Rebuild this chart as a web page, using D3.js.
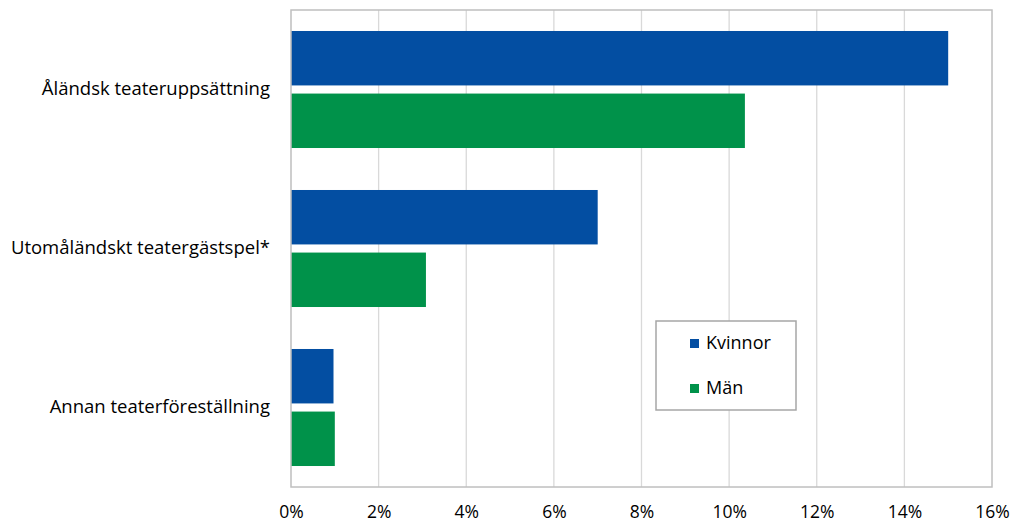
<!DOCTYPE html>
<html>
<head>
<meta charset="utf-8">
<script src="https://cdn.jsdelivr.net/npm/d3@7"></script>
<style>
body{margin:0;background:#fff;}
text{font-family:"Open Sans",sans-serif;fill:#000;}
</style>
</head>
<body>
<div id="chart"></div>
<script>
var w=1011;
var h=525;
var margin={top:10,right:19,bottom:38,left:291};

var categories=["Åländsk teateruppsättning","Utomåländskt teatergästspel*","Annan teaterföreställning"];
var seriesNames=["Kvinnor","Män"];
var kvinnor=[15.0,7.0,0.97];
var man=[10.36,3.08,1.0];
var xTicks=[0,2,4,6,8,10,12,14,16];
var colors=["#034ea2","#00924a"];

var svg=d3.select("#chart").append("svg")
 .attr("width",w)
 .attr("height",h);

var xScale=d3.scaleLinear()
 .domain([0,16])
 .range([margin.left,w-margin.right]);

var yScale=d3.scaleBand()
 .domain(categories)
 .range([margin.top,h-margin.bottom])
 .paddingInner(0.264)
 .paddingOuter(0.132);

var inner=d3.scaleBand()
 .domain(seriesNames)
 .range([0,yScale.bandwidth()])
 .paddingInner(0.13);

//grid
svg.append("g")
 .selectAll("line")
 .data(xTicks.slice(1,-1))
 .enter().append("line")
 .attr("x1",function(d){return xScale(d);})
 .attr("x2",function(d){return xScale(d);})
 .attr("y1",margin.top)
 .attr("y2",h-margin.bottom)
 .attr("stroke","#d9d9d9")
 .attr("stroke-width",1.3);

//bars
var data=[kvinnor,man];
seriesNames.forEach(function(s,si){
  svg.append("g")
   .selectAll("rect")
   .data(categories)
   .enter().append("rect")
   .attr("x",xScale(0))
   .attr("y",function(d){return yScale(d)+inner(s);})
   .attr("width",function(d,i){return xScale(data[si][i])-xScale(0);})
   .attr("height",inner.bandwidth())
   .attr("fill",colors[si]);
});

//frame
svg.append("rect")
 .attr("x",margin.left)
 .attr("y",margin.top)
 .attr("width",w-margin.right-margin.left)
 .attr("height",h-margin.bottom-margin.top)
 .attr("fill","none")
 .attr("stroke","#bfbfbf")
 .attr("stroke-width",1.5);

//x axis
var xAxis=svg.append("g")
 .attr("transform","translate(0,"+(h-margin.bottom)+")")
 .call(d3.axisBottom(xScale).tickValues(xTicks).tickSize(0).tickPadding(19)
   .tickFormat(function(d){return d+"%";}));
xAxis.select(".domain").remove();
xAxis.selectAll("text").style("font-size","17.5px").attr("fill","#000");

//y axis
var yAxis=svg.append("g")
 .attr("transform","translate("+margin.left+",0)")
 .call(d3.axisLeft(yScale).tickSize(0).tickPadding(21));
yAxis.select(".domain").remove();
yAxis.selectAll("text").style("font-size","18.5px").attr("fill","#000");

//legend
var legend=svg.append("g").attr("transform","translate(656,321)");
legend.append("rect")
 .attr("width",140)
 .attr("height",89)
 .attr("fill","#fff")
 .attr("stroke","#a6a6a6")
 .attr("stroke-width",1.5);
seriesNames.forEach(function(s,i){
  legend.append("rect")
   .attr("x",34)
   .attr("y",18+i*45)
   .attr("width",9)
   .attr("height",9)
   .attr("fill",colors[i]);
  legend.append("text")
   .attr("x",50)
   .attr("y",28+i*45)
   .style("font-size","18px")
   .text(s);
});
</script>
</body>
</html>
